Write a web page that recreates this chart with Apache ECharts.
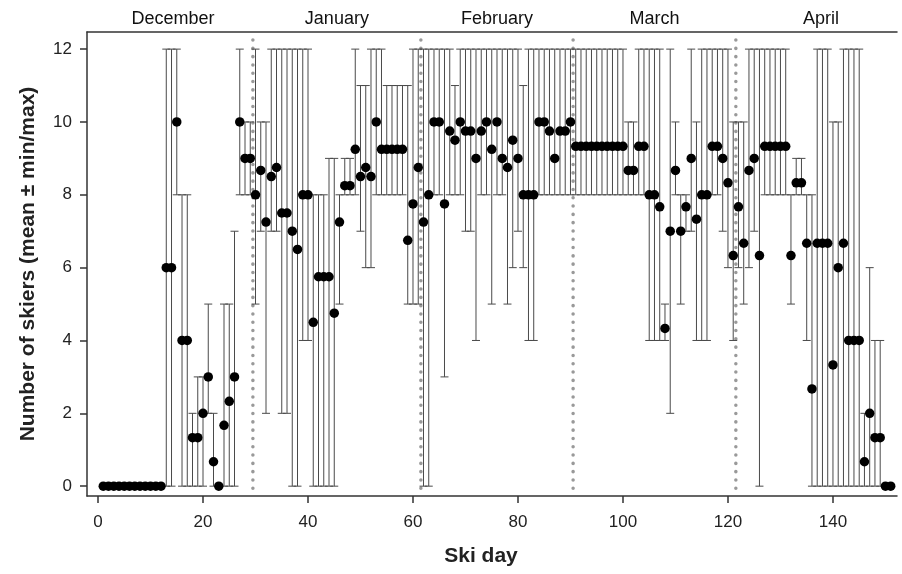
<!DOCTYPE html>
<html lang="en">
<head>
<meta charset="UTF-8" />
<script src="https://cdn.jsdelivr.net/npm/echarts@6/dist/echarts.min.js"></script>
<title>Skiers per ski day</title>
</head>
<body style="margin:0">
<div id="main" style="width:902px;height:574px"></div>
<script>
// ski day 1..151
var days = [
  1, 2, 3, 4, 5, 6, 7, 8, 9, 10, 11, 12, 13, 14, 15, 16, 17, 18, 19, 20,
  21, 22, 23, 24, 25, 26, 27, 28, 29, 30, 31, 32, 33, 34, 35, 36, 37, 38, 39, 40,
  41, 42, 43, 44, 45, 46, 47, 48, 49, 50, 51, 52, 53, 54, 55, 56, 57, 58, 59, 60,
  61, 62, 63, 64, 65, 66, 67, 68, 69, 70, 71, 72, 73, 74, 75, 76, 77, 78, 79, 80,
  81, 82, 83, 84, 85, 86, 87, 88, 89, 90, 91, 92, 93, 94, 95, 96, 97, 98, 99, 100,
  101, 102, 103, 104, 105, 106, 107, 108, 109, 110, 111, 112, 113, 114, 115, 116, 117, 118, 119, 120,
  121, 122, 123, 124, 125, 126, 127, 128, 129, 130, 131, 132, 133, 134, 135, 136, 137, 138, 139, 140,
  141, 142, 143, 144, 145, 146, 147, 148, 149, 150, 151
];
var means = [
  0, 0, 0, 0, 0, 0, 0, 0, 0, 0, 0, 0,
  6, 6, 10, 4, 4, 1.33, 1.33, 2, 3, 0.67, 0, 1.67, 2.33, 3,
  10, 9, 9,
  8, 8.67, 7.25, 8.5, 8.75, 7.5, 7.5, 7, 6.5, 8, 8, 4.5, 5.75, 5.75, 5.75, 4.75,
  7.25, 8.25, 8.25, 9.25, 8.5, 8.75, 8.5, 10, 9.25, 9.25, 9.25, 9.25, 9.25, 6.75, 7.75, 8.75,
  7.25, 8, 10, 10, 7.75, 9.75, 9.5, 10, 9.75, 9.75, 9, 9.75, 10, 9.25, 10, 9, 8.75, 9.5, 9,
  8, 8, 8, 10, 10, 9.75, 9, 9.75, 9.75, 10,
  9.33, 9.33, 9.33, 9.33, 9.33, 9.33, 9.33, 9.33, 9.33, 9.33, 8.67, 8.67, 9.33, 9.33, 8, 8,
  7.67, 4.33, 7, 8.67, 7, 7.67, 9, 7.33, 8, 8, 9.33, 9.33, 9, 8.33, 6.33,
  7.67, 6.67, 8.67, 9, 6.33, 9.33, 9.33, 9.33, 9.33, 9.33, 6.33, 8.33, 8.33, 6.67, 2.67,
  6.67, 6.67, 6.67, 3.33, 6, 6.67, 4, 4, 4, 0.67, 2, 1.33, 1.33, 0, 0
];
var mins = [
  0, 0, 0, 0, 0, 0, 0, 0, 0, 0, 0, 0,
  0, 0, 8, 0, 0, 0, 0, 0, 2, 0, 0, 0, 0, 0,
  8, 8, 8,
  5, 7, 2, 7, 7, 2, 2, 0, 0, 4, 4, 0, 0, 0, 0, 0,
  5, 8, 8, 8, 7, 6, 6, 8, 8, 8, 8, 8, 8, 5, 5, 5,
  0, 0, 8, 8, 3, 8, 8, 8, 7, 7, 4, 8, 8, 5, 8, 8, 5, 6, 7,
  6, 4, 4, 8, 8, 8, 8, 8, 8, 8,
  8, 8, 8, 8, 8, 8, 8, 8, 8, 8, 8, 8, 8, 8, 4, 4,
  4, 4, 2, 8, 5, 7, 7, 4, 4, 4, 8, 8, 7, 6, 4,
  6, 5, 6, 7, 0, 8, 8, 8, 8, 8, 5, 8, 8, 4, 0,
  0, 0, 0, 0, 0, 0, 0, 0, 0, 0, 0, 0, 0, 0, 0
];
var maxs = [
  0, 0, 0, 0, 0, 0, 0, 0, 0, 0, 0, 0,
  12, 12, 12, 8, 8, 2, 3, 3, 5, 2, 0, 5, 5, 7,
  12, 10, 10,
  12, 10, 10, 12, 12, 12, 12, 12, 12, 12, 12, 8, 8, 8, 9, 9,
  8, 9, 9, 12, 11, 11, 12, 12, 12, 11, 11, 11, 11, 11, 12, 12,
  12, 12, 12, 12, 12, 12, 11, 12, 12, 12, 12, 12, 12, 12, 12, 12, 12, 12, 12,
  11, 12, 12, 12, 12, 12, 12, 12, 12, 12,
  12, 12, 12, 12, 12, 12, 12, 12, 12, 12, 10, 10, 12, 12, 12, 12,
  12, 5, 12, 10, 8, 8, 12, 10, 12, 12, 12, 12, 12, 12, 10,
  10, 10, 12, 12, 12, 12, 12, 12, 12, 12, 8, 9, 9, 8, 8,
  12, 12, 12, 10, 10, 12, 12, 12, 12, 2, 6, 4, 4, 0, 0
];

var monthNames = ["December", "January", "February", "March", "April"];
var monthCenters = [14.3, 45.5, 76, 106, 137.7];
var monthBreaks = [29.5, 61.5, 90.5, 121.5];
var xTicks = [0, 20, 40, 60, 80, 100, 120, 140];
var yTicks = [0, 2, 4, 6, 8, 10, 12];

var chart = echarts.init(document.getElementById("main"));

var barData = [];
var dotData = [];
for (var i = 0; i < days.length; i++) {
  barData.push([days[i], mins[i], maxs[i]]);
  dotData.push([days[i], means[i]]);
}

var axisColor = "#333";
var font = "Liberation Sans, Arial, sans-serif";

var option = {
  animation: false,
  textStyle: { fontFamily: font },
  grid: { left: 87, right: 5, top: 32, bottom: 78 },
  xAxis: [
    {
      type: "value",
      min: -2.1,
      max: 152.2,
      axisLine: { onZero: false, lineStyle: { color: axisColor, width: 1.5 } },
      axisTick: { customValues: xTicks, length: 7, lineStyle: { color: axisColor, width: 1.5 } },
      axisLabel: { customValues: xTicks, fontSize: 17, margin: 18, color: "#222", fontFamily: font },
      splitLine: { show: false },
      name: "Ski day",
      nameLocation: "middle",
      nameGap: 50,
      nameTextStyle: { fontSize: 21, fontWeight: "bold", color: "#222", fontFamily: font, padding: [0, 22, 0, 0] }
    },
    {
      type: "value",
      position: "top",
      min: -2.1,
      max: 152.2,
      axisLine: { show: true, onZero: false, lineStyle: { color: axisColor, width: 1.5 } },
      axisTick: { show: false },
      axisLabel: { show: false },
      splitLine: { show: false }
    }
  ],
  yAxis: {
    type: "value",
    min: -0.27,
    max: 12.47,
    axisLine: { show: true, onZero: false, lineStyle: { color: axisColor, width: 1.5 } },
    axisTick: { show: true, customValues: yTicks, length: 7, lineStyle: { color: axisColor, width: 1.5 } },
    axisLabel: { customValues: yTicks, fontSize: 17, margin: 15, color: "#222", fontFamily: font },
    splitLine: { show: false },
    name: "Number of skiers (mean \u00b1 min/max)",
    nameLocation: "middle",
    nameGap: 48,
    nameTextStyle: { fontSize: 21, fontWeight: "bold", color: "#222", fontFamily: font }
  },
  series: [
    {
      // month separators
      type: "custom",
      data: monthBreaks.map(function (b) { return [b]; }),
      renderItem: function (params, api) {
        var top = api.coord([api.value(0), 12.25]);
        var bot = api.coord([api.value(0), -0.27]);
        return {
          type: "line",
          shape: { x1: top[0], y1: top[1], x2: bot[0], y2: bot[1] },
          style: { stroke: "#999", lineWidth: 3.5, lineDash: [0.1, 8.2], lineCap: "round" }
        };
      },
      z: 1
    },
    {
      // month labels above the plot
      type: "custom",
      data: monthCenters.map(function (c, k) { return [c, k]; }),
      renderItem: function (params, api) {
        var p = api.coord([api.value(0), 12.82]);
        return {
          type: "text",
          x: p[0],
          y: p[1],
          style: {
            text: monthNames[api.value(1)],
            fontSize: 18,
            fontFamily: font,
            fill: "#111",
            align: "center",
            verticalAlign: "middle"
          }
        };
      },
      clip: false
    },
    {
      // min/max error bars
      type: "custom",
      data: barData,
      renderItem: function (params, api) {
        if (api.value(1) === api.value(2)) return null;
        var lo = api.coord([api.value(0), api.value(1)]);
        var hi = api.coord([api.value(0), api.value(2)]);
        var w = 4;
        var st = { stroke: "#4a4a4a", lineWidth: 1 };
        return {
          type: "group",
          children: [
            { type: "line", shape: { x1: lo[0], y1: lo[1], x2: hi[0], y2: hi[1] }, style: st },
            { type: "line", shape: { x1: hi[0] - w, y1: hi[1], x2: hi[0] + w, y2: hi[1] }, style: st },
            { type: "line", shape: { x1: lo[0] - w, y1: lo[1], x2: lo[0] + w, y2: lo[1] }, style: st }
          ]
        };
      },
      z: 2
    },
    {
      type: "scatter",
      data: dotData,
      symbol: "circle",
      symbolSize: 9.5,
      itemStyle: { color: "#000", opacity: 1 },
      z: 3
    }
  ]
};

chart.setOption(option);
</script>
</body>
</html>
